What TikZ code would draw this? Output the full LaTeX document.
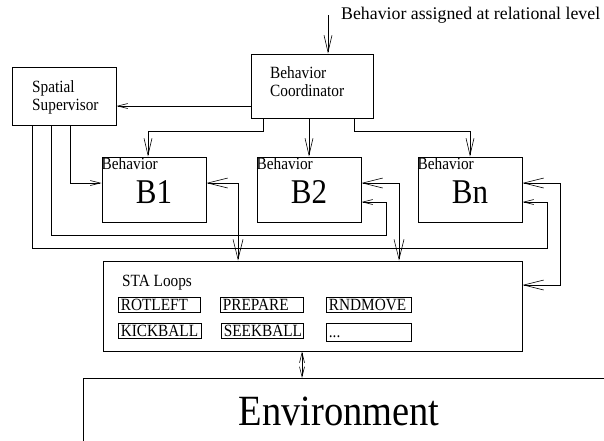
\documentclass[tikz,border=0pt]{standalone}
\usepackage{fontspec}
\setmainfont{Liberation Serif}
\usetikzlibrary{arrows.meta}
\newcommand{\vst}[1]{\scalebox{1}[1.12]{#1}}
\newcommand{\twoline}[2]{\vst{\begin{tabular}{@{}l@{}}#1\\#2\end{tabular}}}
\begin{document}
\begin{tikzpicture}[x=1pt,y=-1pt,
  box/.style={draw, line width=1pt, inner sep=0pt},
  conn/.style={line width=0.6pt},
  txt/.style={font=\fontsize{15.3}{16.2}\selectfont, inner sep=0pt},
  bigtxt/.style={font=\fontsize{31}{34}\selectfont, inner sep=0pt},
  bbox/.style={box, minimum width=104pt, minimum height=65pt},
  item/.style={draw, line width=0.7pt, inner xsep=2.5pt, inner ysep=0.5pt, align=left,
    text height=12.5pt, text depth=1.5pt, anchor=west, font=\fontsize{15.3}{18}\selectfont},
  big/.tip={Straight Barb[length=20pt,width=10pt]},
  med/.tip={Straight Barb[length=17pt,width=8pt]},
  sml/.tip={Straight Barb[length=10pt,width=5pt]}
]
\useasboundingbox (0,0) rectangle (604,440);
\begin{scope}
\clip (0,0) rectangle (604,440);
\node[box, minimum width=560pt, minimum height=100pt, anchor=north west] (env) at (83,378) {};
\end{scope}
\node[font=\fontsize{38.5}{42}\selectfont, inner sep=0pt] (envt) at (339,411) {\vst{Environment}};

% top input
\coordinate (topin) at (328,15);
\node[font=\fontsize{17.8}{20}\selectfont, inner sep=0pt, anchor=west] (toplbl) at (341,15) {Behavior assigned at relational level};

% boxes
\node[box, minimum width=122pt, minimum height=64pt] (coord) at (312,86) {};
\node[txt, anchor=west] (coordt) at (270,84) {\twoline{Behavior}{Coordinator}};
\node[box, minimum width=104pt, minimum height=58pt] (spat) at (64,96) {};
\node[txt, anchor=west] (spatt) at (32,98) {\twoline{Spatial}{Supervisor}};

\node[bbox] (B1) at (154,189.5) {};
\node[bbox] (B2) at (309,189.5) {};
\node[bbox] (Bn) at (470,189.5) {};
\node[txt, anchor=north west] (B1l) at ([yshift=-1pt]B1.north west) {\vst{Behavior}};
\node[txt, anchor=north west] (B2l) at ([yshift=-1pt]B2.north west) {\vst{Behavior}};
\node[txt, anchor=north west] (Bnl) at ([yshift=-1pt]Bn.north west) {\vst{Behavior}};
\node[bigtxt] (B1t) at (154,192) {\vst{B1}};
\node[bigtxt] (B2t) at (309,192) {\vst{B2}};
\node[bigtxt] (Bnt) at (470,192) {\vst{Bn}};

\node[box, minimum width=419pt, minimum height=90pt] (sta) at (312.5,306) {};
\node[txt, anchor=west] (stat) at (122,283) {\vst{STA Loops}};
\node[item, text width=77pt] (i1) at (118,305) {\vst{ROTLEFT}};
\node[item, text width=78pt] (i2) at (220,305) {\vst{PREPARE}};
\node[item, text width=80pt] (i3) at (326,305) {\vst{RNDMOVE}};
\node[item, text width=78pt] (i4) at (118,331) {\vst{KICKBALL}};
\node[item, text width=77pt] (i5) at (221,331) {\vst{SEEKBALL}};
\node[item, text width=80pt, minimum height=18pt] (i6) at (326,332) {\vst{...}};

% connectors
\draw[conn, -{med}] (topin) -- (topin |- coord.north);
\draw[conn, -{sml}] (coord.west |- 0,106) -- (spat.east |- 0,106);
\draw[conn, -{med}] (coord.south -| 263,0) -- (263,131) -- (148,131) -- (B1.north -| 148,0);
\draw[conn, -{med}] (coord.south -| 309,0) -- (B2.north);
\draw[conn, -{med}] (coord.south -| 354,0) -- (354,131) -- (470,131) -- (Bn.north);
\draw[conn, -{sml}] (spat.south -| 70,0) -- (70,183) -- (B1.west |- 0,183);
\draw[conn, -{sml}] (spat.south -| 51,0) -- (51,235) -- (386,235) -- (386,202) -- (B2.east |- 0,202);
\draw[conn, -{sml}] (spat.south -| 32,0) -- (32,248) -- (547,248) -- (547,202) -- (Bn.east |- 0,202);
\draw[conn, {big}-{big}] (B1.east |- 0,183) -- (238,183) -- (sta.north -| 238,0);
\draw[conn, {big}-{big}] (B2.east |- 0,183) -- (399,183) -- (sta.north -| 399,0);
\draw[conn, {big}-{big}] (Bn.east |- 0,183) -- (560,183) -- (560,285) -- (sta.east |- 0,285);
\draw[conn, {sml}-{sml}] (sta.south -| 302,0) -- (env.north -| 302,0);
\end{tikzpicture}
\end{document}
